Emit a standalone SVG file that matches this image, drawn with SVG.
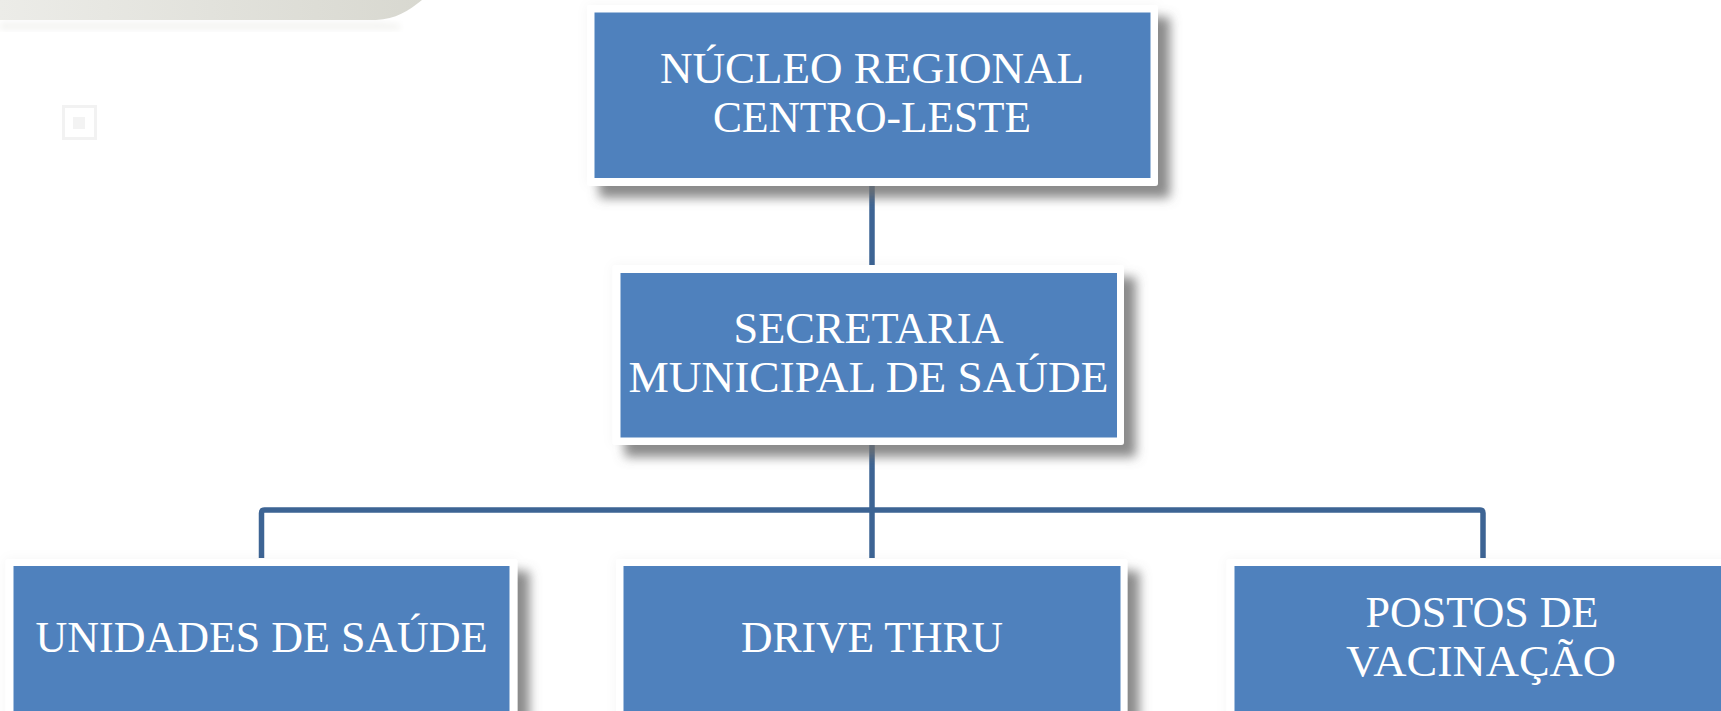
<svg xmlns="http://www.w3.org/2000/svg" width="1721" height="711" viewBox="0 0 1721 711">
<defs>
<linearGradient id="topband" x1="0" y1="0" x2="1" y2="0">
<stop offset="0" stop-color="#ececE8"/>
<stop offset="1" stop-color="#d8d8d0"/>
</linearGradient>
<filter id="shadow" x="-10%" y="-20%" width="130%" height="160%">
<feGaussianBlur in="SourceAlpha" stdDeviation="5.5" result="b"/>
<feOffset in="b" dx="12" dy="12" result="o"/>
<feFlood flood-color="#6e6e6e" flood-opacity="0.8"/>
<feComposite in2="o" operator="in" result="s"/>
<feGaussianBlur in="SourceAlpha" stdDeviation="6" result="h"/>
<feFlood flood-color="#000000" flood-opacity="0.04"/>
<feComposite in2="h" operator="in" result="halo"/>
<feMerge><feMergeNode in="halo"/><feMergeNode in="s"/><feMergeNode in="SourceGraphic"/></feMerge>
</filter>
<filter id="glow" x="-10%" y="-20%" width="120%" height="140%">
<feGaussianBlur stdDeviation="3"/>
</filter>
</defs>
<style>
.frame{fill:#ffffff;filter:url(#shadow);}
.box{fill:#4f81bd;}
.lbl{font-family:"Liberation Serif","Times New Roman",serif;font-size:45px;fill:#ffffff;text-anchor:middle;}
.conn{fill:none;stroke:#3d6494;stroke-width:5.5;stroke-linejoin:round;}
</style>
<rect width="1721" height="711" fill="#ffffff"/>
<g id="decor">
<path d="M0,22 H380 L400,24 V30 H0 Z" fill="#f4f4f2" filter="url(#glow)"/>
<path d="M0,0 H422 C408,11 396,19 376,20 H0 Z" fill="url(#topband)"/>
<rect x="63.5" y="106.5" width="32" height="32" fill="none" stroke="#f2f2f2" stroke-width="3"/>
<rect x="73" y="117" width="12" height="12" fill="#f3f3f3"/>
</g>
<g id="connectors">
<line class="conn" x1="872" y1="186" x2="872" y2="265"/>
<line class="conn" x1="872" y1="445" x2="872" y2="558"/>
<path class="conn" d="M261.5,558 V513 Q261.5,510 264.5,510 H1480 Q1483,510 1483,513 V558"/>
</g>
<g id="node-nucleo">
<rect class="frame" x="587" y="5" width="571" height="181" rx="3"/>
<rect class="box" x="594.5" y="12.5" width="556" height="165.5"/>
<text class="lbl" x="872" y="83" textLength="424" lengthAdjust="spacingAndGlyphs">NÚCLEO REGIONAL</text>
<text class="lbl" x="872" y="132" textLength="318" lengthAdjust="spacingAndGlyphs">CENTRO-LESTE</text>
</g>
<g id="node-secretaria">
<rect class="frame" x="612.5" y="265" width="511.5" height="180" rx="3"/>
<rect class="box" x="620.5" y="273" width="496.5" height="164.5"/>
<text class="lbl" x="868.5" y="343" textLength="270" lengthAdjust="spacingAndGlyphs">SECRETARIA</text>
<text class="lbl" x="868.5" y="392" textLength="480" lengthAdjust="spacingAndGlyphs">MUNICIPAL DE SAÚDE</text>
</g>
<g id="node-unidades">
<rect class="frame" x="5.5" y="559" width="512" height="200" rx="3"/>
<rect class="box" x="13.5" y="566" width="496" height="200"/>
<text class="lbl" x="261.5" y="652" textLength="452" lengthAdjust="spacingAndGlyphs">UNIDADES DE SAÚDE</text>
</g>
<g id="node-drive">
<rect class="frame" x="616" y="559" width="511.5" height="200" rx="3"/>
<rect class="box" x="623.5" y="566" width="497" height="200"/>
<text class="lbl" x="872" y="652" textLength="262" lengthAdjust="spacingAndGlyphs">DRIVE THRU</text>
</g>
<g id="node-postos">
<rect class="frame" x="1226.5" y="559" width="512" height="200" rx="3"/>
<rect class="box" x="1234.5" y="566" width="497" height="200"/>
<text class="lbl" x="1482" y="627" textLength="233" lengthAdjust="spacingAndGlyphs">POSTOS DE</text>
<text class="lbl" x="1481" y="676" textLength="270" lengthAdjust="spacingAndGlyphs">VACINAÇÃO</text>
</g>
</svg>
